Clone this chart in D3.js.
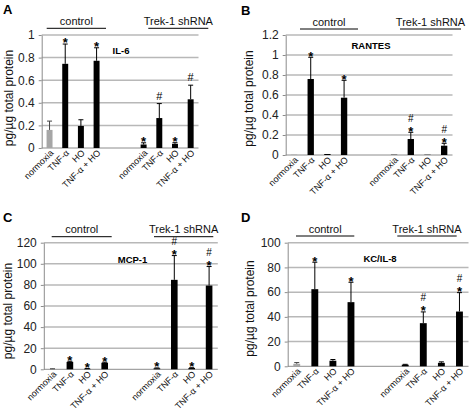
<!DOCTYPE html>
<html><head><meta charset="utf-8">
<script src="https://cdn.jsdelivr.net/npm/d3@7"></script>
<style>body{margin:0;background:#fff}svg{display:block}</style>
</head><body><svg id="c" width="469" height="410"></svg>
<script>
// ---------- data ----------
const categories = ["normoxia", "TNF-α", "HO", "TNF-α + HO"];
const groups = ["control", "Trek-1 shRNA"];
const yLabel = "pg/µg total protein";

// IL-6 (control x4, Trek-1 shRNA x4)
const il6Mean = [0.16, 0.745, 0.195, 0.772, 0.031, 0.265, 0.037, 0.431];
const il6Err  = [0.078, 0.175, 0.055, 0.115, 0.015, 0.128, 0.010, 0.125];
const il6Sig  = ["", "*", "", "*", "*", "#", "*", "#"];
const il6Ticks = [0, 0.2, 0.4, 0.6, 0.8, 1];

// RANTES
const rantesMean = [0.004, 0.76, 0.01, 0.573, 0.003, 0.16, 0.003, 0.093];
const rantesErr  = [0, 0.217, 0, 0.174, 0, 0.067, 0, 0.024];
const rantesSig  = ["", "*", "", "*", "", "#*", "", "#*"];
const rantesTicks = [0, 0.2, 0.4, 0.6, 0.8, 1, 1.2];

// MCP-1
const mcpMean = [0.3, 7.0, 0.5, 6.2, 1.0, 84.8, 1.2, 79.4];
const mcpErr  = [0.2, 0.6, 0.3, 0.5, 0.3, 23.0, 0.3, 18.0];
const mcpSig  = ["", "*", "*", "*", "*", "#*", "*", "#*"];
const mcpTicks = [0, 20, 40, 60, 80, 100, 120];

// KC/IL-8
const kcMean = [2.0, 62.4, 4.5, 51.9, 1.3, 34.9, 2.8, 44.3];
const kcErr  = [1.0, 21.8, 1.0, 16.1, 0.3, 9.1, 0.8, 15.3];
const kcSig  = ["", "*", "", "*", "", "#*", "", "#*"];
const kcTicks = [0, 20, 40, 60, 80, 100];

// ---------- layout ----------
const panels = [
  {letter:"A", title:"IL-6", mean:il6Mean, err:il6Err, sig:il6Sig, ticks:il6Ticks,
   x0:41.7, x1:198.5, yTop:35, yBot:148, letterPos:[3,13.5], titlePos:[121,54],
   yLabPos:[9,98], ctrl:[46.7,106], trek:[148.3,208.3], lineY:28.3},
  {letter:"B", title:"RANTES", mean:rantesMean, err:rantesErr, sig:rantesSig, ticks:rantesTicks,
   x0:285.7, x1:452.5, yTop:35, yBot:155, letterPos:[241,14.5], titlePos:[371,49],
   yLabPos:[249,98.5], ctrl:[300,358], trek:[400,461], lineY:29},
  {letter:"C", title:"MCP-1", mean:mcpMean, err:mcpErr, sig:mcpSig, ticks:mcpTicks,
   x0:43.8, x1:217.8, yTop:242.7, yBot:369.3, letterPos:[3,222], titlePos:[132.5,263],
   yLabPos:[8,311], ctrl:[51.7,111.7], trek:[154,213.3], lineY:236.7},
  {letter:"D", title:"KC/IL-8", mean:kcMean, err:kcErr, sig:kcSig, ticks:kcTicks,
   x0:287.7, x1:468.5, yTop:242.7, yBot:366.3, letterPos:[241,222], titlePos:[380,262],
   yLabPos:[250,308.5], ctrl:[296,354.3], trek:[397.3,456.7], lineY:236}
];

const svg = d3.select("#c");
const FONT = "'Liberation Sans', Arial, sans-serif";
const slots = [...categories.map(c => "c|" + c), "gap1", "gap2", ...categories.map(c => "s|" + c)];

function drawPanel(p) {
  const g = svg.append("g");
  const x = d3.scaleBand().domain(slots).range([p.x0, p.x1]);
  const y = d3.scaleLinear().domain([0, d3.max(p.ticks)]).range([p.yBot, p.yTop]);

  // gridlines
  g.selectAll(".grid").data(p.ticks.filter(t => t > 0)).join("line")
    .attr("x1", p.x0).attr("x2", p.x1)
    .attr("y1", d => y(d)).attr("y2", d => y(d))
    .attr("stroke", "#b8b8b8").attr("stroke-width", 1.5);

  // y axis
  const ax = d3.axisLeft(y).tickValues(p.ticks).tickSize(3).tickSizeOuter(0).tickPadding(4)
    .tickFormat(d => d3.format("~g")(d));
  const ag = g.append("g").attr("transform", `translate(${p.x0},0)`).call(ax);
  ag.select(".domain").attr("stroke", "#8c8c8c");
  ag.selectAll(".tick line").attr("stroke", "#8c8c8c");
  ag.selectAll(".tick text").attr("font-family", FONT).attr("font-size", 12).attr("fill", "#222");

  // baseline
  g.append("line").attr("x1", p.x0).attr("x2", p.x1).attr("y1", y(0)).attr("y2", y(0))
    .attr("stroke", "#8c8c8c").attr("stroke-width", 1);

  const data = p.mean.map((v, i) => ({
    key: (i < 4 ? "c|" : "s|") + categories[i % 4],
    v, e: p.err[i], s: p.sig[i], gray: i === 0
  }));
  const bw = x.bandwidth() * 0.38;
  const cx = d => x(d.key) + x.bandwidth() / 2;

  // bars
  g.selectAll(".bar").data(data).join("rect")
    .attr("x", d => cx(d) - bw / 2).attr("width", bw)
    .attr("y", d => y(d.v)).attr("height", d => Math.max(0, y(0) - y(d.v)))
    .attr("fill", d => d.gray ? "#a6a6a6" : "#000");

  // error bars
  const eb = data.filter(d => d.e > 0);
  g.selectAll(".ev").data(eb).join("line")
    .attr("x1", cx).attr("x2", cx)
    .attr("y1", d => y(d.v)).attr("y2", d => y(d.v + d.e))
    .attr("stroke", d => d.gray ? "#444" : "#000").attr("stroke-width", 1);
  g.selectAll(".ec").data(eb).join("line")
    .attr("x1", d => cx(d) - 2.5).attr("x2", d => cx(d) + 2.5)
    .attr("y1", d => y(d.v + d.e)).attr("y2", d => y(d.v + d.e))
    .attr("stroke", d => d.gray ? "#444" : "#000").attr("stroke-width", 1);

  // significance marks
  data.filter(d => d.s).forEach(d => {
    const top = y(d.v + d.e);
    const X = cx(d);
    if (d.s.includes("*")) {
      g.append("text").attr("x", X).attr("y", top + 3.4).attr("text-anchor", "middle")
        .attr("font-family", FONT).attr("font-size", 13).attr("font-weight", "bold").text("*");
    }
    if (d.s === "#") {
      g.append("text").attr("x", X).attr("y", top - 4).attr("text-anchor", "middle")
        .attr("font-family", FONT).attr("font-size", 11).text("#");
    } else if (d.s === "#*") {
      g.append("text").attr("x", X).attr("y", top - 10.6).attr("text-anchor", "middle")
        .attr("font-family", FONT).attr("font-size", 10).text("#");
    }
  });

  // x labels
  g.selectAll(".xl").data(data).join("text")
    .attr("transform", d => `translate(${cx(d) + 4.5},${y(0) + 5.5}) rotate(-45)`)
    .attr("text-anchor", "end").attr("font-family", FONT).attr("font-size", 9)
    .attr("fill", "#111")
    .text(d => d.key.slice(2));

  // group labels
  [[p.ctrl, groups[0]], [p.trek, groups[1]]].forEach(([r, t]) => {
    g.append("line").attr("x1", r[0]).attr("x2", r[1]).attr("y1", p.lineY).attr("y2", p.lineY)
      .attr("stroke", "#000").attr("stroke-width", 1);
    g.append("text").attr("x", (r[0] + r[1]) / 2).attr("y", p.lineY - 3.5)
      .attr("text-anchor", "middle").attr("font-family", FONT).attr("font-size", 11)
      .attr("fill", "#111").text(t);
  });

  // title
  g.append("text").attr("x", p.titlePos[0]).attr("y", p.titlePos[1]).attr("text-anchor", "middle")
    .attr("font-family", FONT).attr("font-size", 9.5).attr("font-weight", "bold").text(p.title);

  // panel letter
  g.append("text").attr("x", p.letterPos[0]).attr("y", p.letterPos[1])
    .attr("font-family", FONT).attr("font-size", 13).attr("font-weight", "bold").text(p.letter);

  // y label
  g.append("text").attr("transform", `translate(${p.yLabPos[0]},${p.yLabPos[1]}) rotate(-90)`)
    .attr("text-anchor", "middle").attr("dy", "0.35em")
    .attr("font-family", FONT).attr("font-size", 12).attr("fill", "#111").text(yLabel);
}

panels.forEach(drawPanel);
</script>
</body></html>
